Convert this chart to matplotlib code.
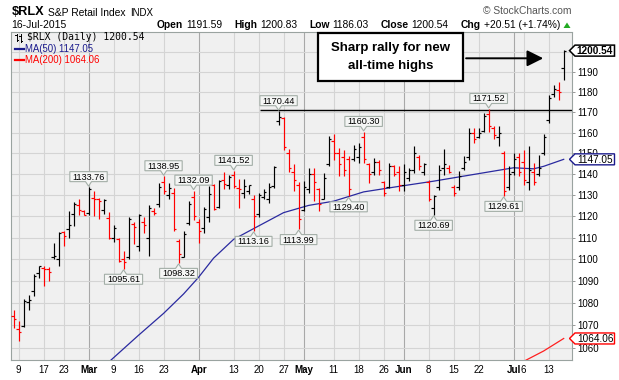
import matplotlib
matplotlib.use("Agg")
import matplotlib.pyplot as plt
import numpy as np
import pandas as pd
from matplotlib.patches import Polygon, Rectangle, FancyArrowPatch
from matplotlib.lines import Line2D
from matplotlib.ticker import FixedLocator, FixedFormatter, NullLocator, NullFormatter
from matplotlib.transforms import IdentityTransform

plt.rcParams['font.family'] = ['Liberation Sans', 'DejaVu Sans']

# ---------------- data ----------------
start_date = "2015-02-06"
end_date = "2015-07-16"
market_holidays = ["2015-02-16", "2015-04-03", "2015-05-25", "2015-07-03"]

opens = [1074.0, 1068.3, 1069.8, 1080.4, 1085.4, 1093.7, 1096.0, 1095.4, 1101.0, 1100.1,
         1112.6, 1114.0, 1121.0, 1125.4, 1122.5, 1121.5, 1128.7, 1128.2, 1123.0, 1119.0,
         1110.0, 1109.6, 1100.1, 1100.9, 1116.6, 1106.0, 1117.4, 1110.0, 1122.5, 1126.0,
         1136.0, 1130.0, 1131.0, 1108.5, 1101.0, 1117.0, 1129.0, 1117.4, 1114.5, 1119.7,
         1135.0, 1124.5, 1137.3, 1135.0, 1139.7, 1133.5, 1131.2, 1132.0, 1128.0, 1121.0,
         1129.0, 1128.0, 1134.5, 1165.5, 1167.0, 1150.0, 1141.0, 1135.0, 1123.0, 1133.0,
         1140.0, 1133.0, 1128.0, 1145.0, 1156.0, 1150.0, 1148.0, 1147.0, 1147.0, 1148.0,
         1158.0, 1145.0, 1141.0, 1146.0, 1136.0, 1134.0, 1144.0, 1141.0, 1135.0, 1138.0,
         1142.0, 1148.0, 1141.0, 1136.0, 1124.0, 1134.0, 1143.0, 1143.0, 1134.0, 1134.0,
         1143.0, 1148.0, 1160.0, 1158.0, 1161.0, 1169.0, 1162.0, 1158.0, 1150.0, 1134.0,
         1141.0, 1148.0, 1146.0, 1136.0, 1141.0, 1140.0, 1150.0, 1166.0, 1179.0, 1181.0,
         1191.59]
highs = [1077.0, 1071.8, 1081.6, 1083.7, 1093.4, 1097.0, 1096.9, 1096.5, 1107.3, 1112.6,
         1113.1, 1122.5, 1126.5, 1127.9, 1122.9, 1133.76, 1132.0, 1128.7, 1128.2, 1122.0,
         1115.8, 1109.8, 1104.0, 1119.7, 1117.4, 1121.2, 1119.7, 1125.4, 1123.7, 1135.9,
         1138.95, 1135.9, 1133.5, 1109.3, 1113.0, 1127.1, 1132.09, 1118.9, 1124.5, 1134.2,
         1135.4, 1137.3, 1140.9, 1139.7, 1141.52, 1137.6, 1137.6, 1135.0, 1129.9, 1131.2,
         1132.7, 1135.9, 1144.0, 1170.44, 1167.5, 1152.0, 1145.0, 1136.0, 1136.5, 1142.9,
         1142.9, 1133.4, 1140.5, 1158.3, 1159.1, 1152.5, 1151.7, 1148.5, 1154.1, 1154.9,
         1160.30, 1145.3, 1147.7, 1146.9, 1136.5, 1145.3, 1144.5, 1143.7, 1145.0, 1142.9,
         1153.3, 1149.3, 1145.3, 1137.3, 1130.2, 1144.5, 1152.0, 1144.5, 1135.0, 1141.3,
         1148.5, 1162.0, 1162.0, 1162.0, 1169.5, 1171.52, 1163.3, 1163.3, 1150.9, 1143.7,
         1150.1, 1150.1, 1151.7, 1153.3, 1145.3, 1149.3, 1159.1, 1178.4, 1183.4, 1185.0,
         1200.83]
lows = [1068.6, 1062.8, 1069.0, 1077.0, 1083.4, 1091.3, 1087.5, 1090.2, 1100.1, 1097.0,
        1106.2, 1110.0, 1115.4, 1120.8, 1120.4, 1120.8, 1119.9, 1118.9, 1121.2, 1109.6,
        1107.8, 1098.6, 1095.61, 1100.1, 1107.0, 1104.0, 1112.3, 1101.7, 1120.4, 1124.5,
        1130.3, 1127.9, 1113.0, 1098.32, 1100.9, 1115.8, 1118.2, 1107.4, 1112.3, 1117.4,
        1122.9, 1123.7, 1132.7, 1132.7, 1133.5, 1123.7, 1128.8, 1130.3, 1113.16, 1119.7,
        1127.9, 1126.3, 1133.5, 1163.5, 1151.5, 1141.0, 1132.0, 1113.99, 1122.4, 1131.0,
        1127.1, 1122.4, 1127.9, 1143.7, 1146.9, 1138.9, 1138.9, 1129.40, 1146.1, 1145.3,
        1145.3, 1135.8, 1139.7, 1139.7, 1129.4, 1133.5, 1138.9, 1131.8, 1132.0, 1136.5,
        1140.5, 1142.1, 1139.7, 1127.1, 1120.69, 1132.6, 1139.7, 1140.5, 1129.4, 1132.6,
        1142.1, 1146.9, 1154.9, 1157.5, 1160.5, 1160.2, 1156.9, 1153.3, 1129.61, 1132.6,
        1139.7, 1138.9, 1135.0, 1132.6, 1135.0, 1138.9, 1149.3, 1164.6, 1177.6, 1176.0,
        1186.03]
closes = [1073.0, 1067.0, 1080.7, 1081.2, 1092.1, 1096.7, 1095.4, 1094.0, 1101.5, 1112.0,
          1110.7, 1115.8, 1126.0, 1122.9, 1120.8, 1132.7, 1128.2, 1127.1, 1127.5, 1110.0,
          1114.7, 1099.4, 1098.5, 1118.9, 1115.0, 1120.5, 1115.8, 1124.0, 1121.5, 1134.0,
          1132.0, 1133.5, 1114.0, 1102.5, 1111.7, 1126.0, 1120.0, 1113.0, 1123.3, 1130.3,
          1123.3, 1136.5, 1135.3, 1138.5, 1134.2, 1133.0, 1134.2, 1134.6, 1120.0, 1130.0,
          1131.5, 1134.0, 1143.5, 1167.5, 1153.0, 1143.0, 1137.0, 1118.5, 1134.0, 1140.0,
          1136.0, 1126.0, 1138.0, 1157.0, 1150.0, 1145.0, 1142.0, 1133.0, 1152.0, 1153.0,
          1147.0, 1140.0, 1146.0, 1142.0, 1131.0, 1144.0, 1140.0, 1135.0, 1141.0, 1142.0,
          1150.0, 1144.0, 1145.0, 1128.0, 1129.5, 1142.0, 1145.0, 1141.0, 1131.0, 1139.0,
          1146.0, 1160.0, 1157.0, 1160.0, 1168.0, 1163.0, 1159.0, 1160.0, 1132.0, 1140.0,
          1147.0, 1141.0, 1137.0, 1142.0, 1136.0, 1143.0, 1158.0, 1177.0, 1181.5, 1180.03,
          1200.54]

ma50_dates = ["2015-03-06", "2015-03-16", "2015-03-23", "2015-03-27", "2015-04-01",
              "2015-04-07", "2015-04-13", "2015-04-17", "2015-04-27", "2015-05-04",
              "2015-05-11", "2015-05-19", "2015-05-29", "2015-06-09", "2015-06-15",
              "2015-06-23", "2015-07-01", "2015-07-08", "2015-07-10", "2015-07-16"]
ma50_values = [1053.5, 1065.5, 1075.3, 1084.1, 1091.7, 1100.5, 1109.2, 1114.2, 1121.7, 1125.1,
               1127.1, 1131.5, 1134.1, 1136.6, 1138.2, 1140.6, 1143.0, 1142.5, 1143.7, 1147.05]
ma200_dates = ["2015-07-06", "2015-07-10", "2015-07-16"]
ma200_values = [1053.9, 1058.5, 1064.06]

tick_dates = ["2015-02-09", "2015-02-17", "2015-02-23", "2015-03-02", "2015-03-09",
              "2015-03-16", "2015-03-23", "2015-04-01", "2015-04-13", "2015-04-20",
              "2015-04-27", "2015-05-01", "2015-05-11", "2015-05-18", "2015-05-26",
              "2015-06-01", "2015-06-08", "2015-06-15", "2015-06-22", "2015-07-01",
              "2015-07-06", "2015-07-13"]
tick_labels = ["9", "17", "23", "Mar", "9", "16", "23", "Apr", "13", "20", "27", "May",
               "11", "18", "26", "Jun", "8", "15", "22", "Jul", "6", "13"]
price_ticks = [1060, 1070, 1080, 1090, 1100, 1110, 1120, 1130, 1140, 1150, 1160, 1170, 1180, 1190]

high_marks = ["2015-03-02", "2015-03-23", "2015-03-31", "2015-04-13", "2015-04-24",
              "2015-05-19", "2015-06-24"]
low_marks = ["2015-03-11", "2015-03-26", "2015-04-17", "2015-04-30", "2015-05-14",
             "2015-06-09", "2015-06-29"]
resistance_level = 1171.0
last_close = 1200.54
ma50_last = 1147.05
ma200_last = 1064.06
header_groups = [("Open", "1191.59"), ("High", "1200.83"), ("Low", "1186.03"),
                 ("Close", "1200.54"), ("Chg", "+20.51 (+1.74%)")]

# ---------------- figure ----------------
W, H = 619, 380
fig = plt.figure(figsize=(W / 100, H / 100), dpi=100)
fig.patch.set_facecolor("white")
ax = fig.add_axes([11 / W, (H - 360) / H, (571.7 - 11) / W, (360 - 31.7) / H])
ax.set_facecolor("#f0f0f0")

dates = pd.bdate_range(start_date, end_date, freq="C", holidays=market_holidays)
pos = {d.strftime("%Y-%m-%d"): i for i, d in enumerate(dates)}
x = np.arange(len(dates))

ax.set_yscale("log")
ax.set_ylim(1054.5, 1210.1)
ax.set_xlim(-0.5, 111.6)

# grid
for d, lab in zip(tick_dates, tick_labels):
    month = not lab.isdigit()
    ax.axvline(pos[d], color="#a8a8a8" if month else "#d4d4d4", lw=0.8, zorder=1)
for p in price_ticks + [1200]:
    ax.axhline(p, color="#d4d4d4", lw=0.8, zorder=1)

# OHLC bars
o, h, l, c = map(np.array, (opens, highs, lows, closes))
prev = np.concatenate([[o[0]], c[:-1]])
col = np.where(c > prev, "#000000", "#ff0000")
ax.vlines(x, l, h, colors=col, lw=0.85, zorder=3)
ax.hlines(o, x - 0.5, x, colors=col, lw=0.85, zorder=3)
ax.hlines(c, x, x + 0.5, colors=col, lw=0.85, zorder=3)

# moving averages
ax.plot([pos[d] for d in ma50_dates], ma50_values, color="#2a2aa0", lw=0.9, zorder=2.6)
ax.plot([pos[d] for d in ma200_dates], ma200_values, color="#ff2020", lw=0.9, zorder=2.6)

# resistance line
ax.hlines(resistance_level, pos["2015-04-20"] + 0.3, 111.6, color="black", lw=1.0, zorder=2.5)

# axes styling
for s in ax.spines.values():
    s.set_color("#9aa3a0")
    s.set_linewidth(0.8)
ax.spines["right"].set_linestyle((0, (1, 1)))
ax.yaxis.tick_right()
ax.yaxis.set_major_locator(FixedLocator(price_ticks))
ax.yaxis.set_major_formatter(FixedFormatter([str(p) for p in price_ticks]))
ax.yaxis.set_minor_locator(NullLocator())
ax.yaxis.set_minor_formatter(NullFormatter())
ax.tick_params(axis="y", which="major", length=2.5, width=0.6, color="#888888", pad=1.5, labelsize=7)
ax.set_xticks([pos[d] for d in tick_dates])
ax.set_xticklabels(tick_labels)
for lbl, lab in zip(ax.get_xticklabels(), tick_labels):
    if not lab.isdigit():
        lbl.set_fontweight("bold")
        lbl.set_fontsize(7.5)
ax.tick_params(axis="x", length=0, pad=3.5, labelsize=7)

fig.canvas.draw()
r = fig.canvas.get_renderer()
ident = IdentityTransform()


def callout(d, above):
    i = pos[d]
    val = highs[i] if above else lows[i]
    xd, yd = ax.transData.transform((i, val))
    if above:
        tip, yb, yt = yd + 1.0, yd + 5.5, yd + 15.5
    else:
        tip, yb, yt = yd - 1.0, yd - 5.5, yd - 15.5
    yc = (yb + yt) / 2
    t = fig.text(xd, yc - 0.5, f"{val:.2f}", transform=ident, ha="center", va="center",
                 fontsize=6.6, zorder=6)
    w = t.get_window_extent(renderer=r).width
    x0, x1 = xd - w / 2 - 2.5, xd + w / 2 + 2.5
    pts = [(x0, yb), (xd - 3, yb), (xd, tip), (xd + 3, yb), (x1, yb), (x1, yt), (x0, yt)]
    fig.add_artist(Polygon(pts, closed=True, transform=ident, fc="#f5f6f5", ec="#a3aea7",
                           lw=0.8, zorder=5))


for d in high_marks:
    callout(d, True)
for d in low_marks:
    callout(d, False)


def tag(val, s, ec, bold, lw):
    _, yd = ax.transData.transform((0, val))
    xt, xb0, xb1, hh = 569.5, 575.0, 614.5, 5.5
    pts = [(xt, yd), (xb0, yd + hh), (xb1, yd + hh), (xb1, yd - hh), (xb0, yd - hh)]
    fig.add_artist(Polygon(pts, closed=True, transform=ident, fc="white", ec=ec, lw=lw, zorder=7))
    fig.text((xb0 + xb1) / 2 + 0.3, yd - 0.3, s, transform=ident, ha="center", va="center",
             fontsize=7.2, fontweight="bold" if bold else "normal", zorder=8)


tag(last_close, f"{last_close:.2f}", "black", True, 1.1)
tag(ma50_last, f"{ma50_last:.2f}", "#1a1a8c", False, 1.0)
tag(ma200_last, f"{ma200_last:.2f}", "#ff0000", False, 1.0)


def fx(px):
    return px / W


def fy(py):
    return 1 - py / H


# header
fig.text(fx(11.5), fy(12), "$RLX", fontsize=9.2, fontweight="bold", va="center")
fig.text(fx(48), fy(12.5), "S&P Retail Index", fontsize=7.4, va="center")
fig.text(fx(130), fy(12.5), "INDX", fontsize=7.0, va="center")
fig.text(fx(571.5), fy(11.5), "\u00a9 StockCharts.com", fontsize=7.4, va="center", ha="right",
         color="#555555")
fig.text(fx(11.5), fy(24.5), "16-Jul-2015", fontsize=7.5, va="center")

# quote line laid out from measured widths between x=156.7 and x=560
hfs = 7.4
items = []
for lab, val in header_groups:
    tl = fig.text(0, fy(24.5), lab, fontsize=hfs, fontweight="bold", va="center")
    tv = fig.text(0, fy(24.5), val, fontsize=hfs, va="center")
    items.append((tl, tv))
sp = 3.0
widths = [(tl.get_window_extent(renderer=r).width, tv.get_window_extent(renderer=r).width)
          for tl, tv in items]
natural = sum(a + b + sp for a, b in widths)
gap = (560 - 156.7 - natural) / (len(items) - 1)
cx = 156.7
for (tl, tv), (wl, wv) in zip(items, widths):
    tl.set_x(fx(cx))
    tv.set_x(fx(cx + wl + sp))
    cx += wl + sp + wv + gap
fig.add_artist(Polygon([(fx(563.5), fy(28)), (fx(570.5), fy(28)), (fx(567), fy(22.5))],
                       closed=True, transform=fig.transFigure, fc="#22aa22", ec="none"))

# legend inside plot
fig.text(fx(27), fy(37.5), "$RLX (Daily) 1200.54", fontsize=7.0, va="center",
         family="DejaVu Sans Mono")
for (xa, y0, y1, yo, yc) in [(16.5, 33.5, 40.5, 35, 39.5), (20.5, 34, 41.5, 36, 40.5)]:
    fig.add_artist(Line2D([fx(xa), fx(xa)], [fy(y0), fy(y1)], transform=fig.transFigure,
                          color="black", lw=0.7))
    fig.add_artist(Line2D([fx(xa - 1.5), fx(xa)], [fy(yo), fy(yo)], transform=fig.transFigure,
                          color="black", lw=0.7))
    fig.add_artist(Line2D([fx(xa), fx(xa + 1.5)], [fy(yc), fy(yc)], transform=fig.transFigure,
                          color="black", lw=0.7))
fig.add_artist(Line2D([fx(15), fx(24)], [fy(48.5), fy(48.5)], transform=fig.transFigure,
                      color="#1a1a8c", lw=1.6))
fig.text(fx(25), fy(48.5), f"MA(50) {ma50_last:.2f}", fontsize=6.9, va="center", color="#1a1a8c")
fig.add_artist(Line2D([fx(15), fx(24)], [fy(60), fy(60)], transform=fig.transFigure,
                      color="#ff0000", lw=1.6))
fig.text(fx(25), fy(60), f"MA(200) {ma200_last:.2f}", fontsize=6.9, va="center", color="#ff0000")

# annotation box and arrow
fig.add_artist(Rectangle((fx(318.3), fy(80.7)), fx(463.3) - fx(318.3), fy(33.3) - fy(80.7),
                         transform=fig.transFigure, fc="white", ec="black", lw=1.6, zorder=9))
fig.text(fx(390.8), fy(48.5), "Sharp rally for new", fontsize=9.5, fontweight="bold",
         ha="center", va="center", zorder=10)
fig.text(fx(390.8), fy(66.5), "all-time highs", fontsize=9.5, fontweight="bold",
         ha="center", va="center", zorder=10)
fig.add_artist(FancyArrowPatch((fx(463.3), fy(58.3)), (fx(546), fy(58.3)),
                               transform=fig.transFigure, arrowstyle="-|>,head_length=0.7,head_width=0.35",
                               mutation_scale=14, color="black", lw=1.4, zorder=9))

fig.savefig("out.png", dpi=100, facecolor="white")
